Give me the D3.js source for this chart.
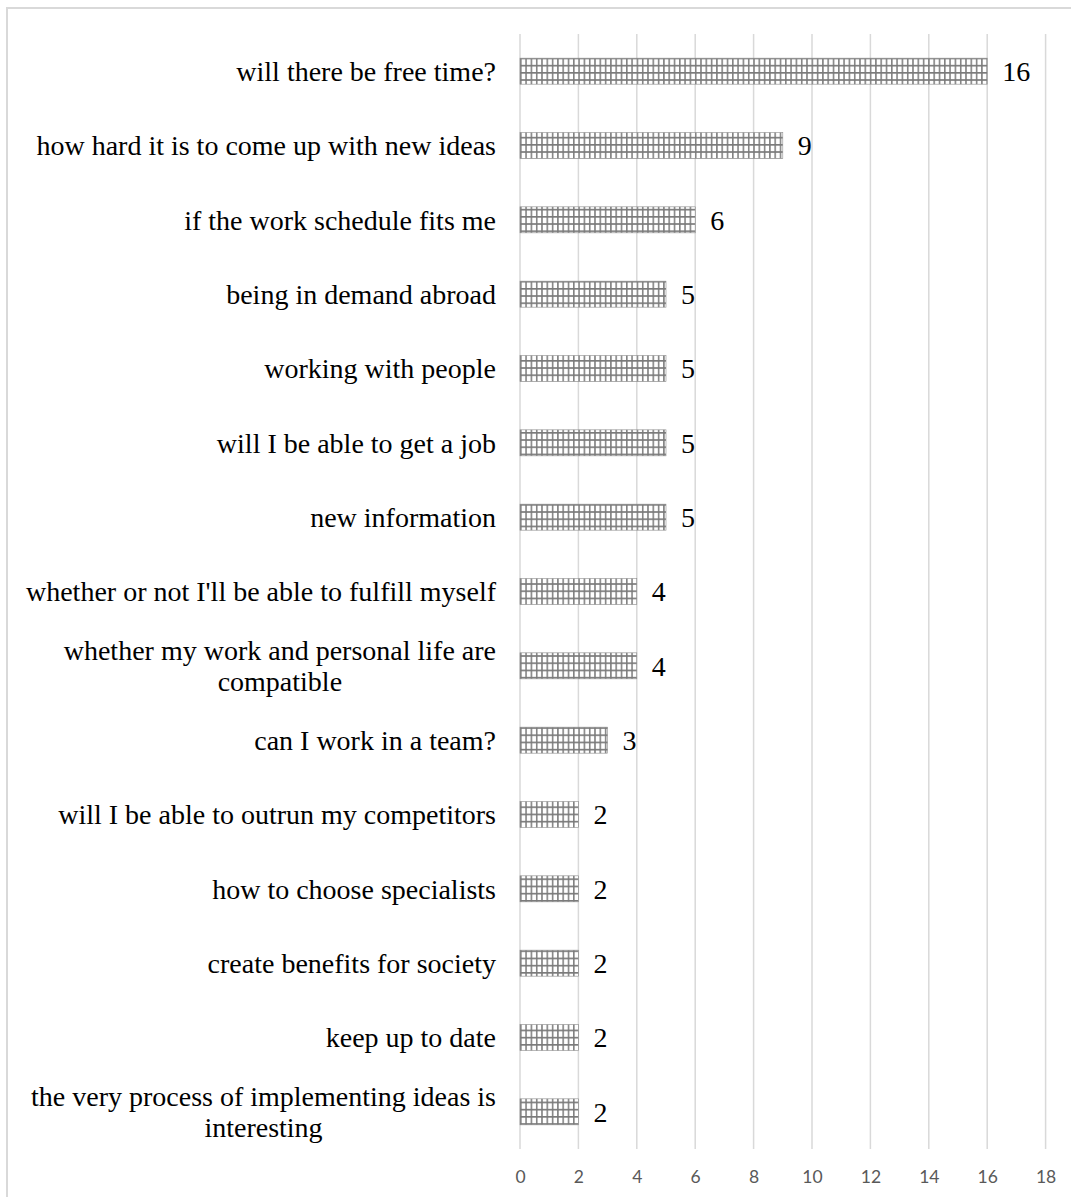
<!DOCTYPE html>
<html>
<head>
<meta charset="utf-8">
<script src="https://cdn.jsdelivr.net/npm/d3@7"></script>
<style>
  html, body { margin: 0; padding: 0; background: #fff; }
  svg { display: block; }
</style>
</head>
<body>
<svg id="chart" width="1071" height="1197"></svg>
<script>
// Survey answers, top to bottom; multi-line labels use "\n"
const categories = [
  "will there be free time?",
  "how hard it is to come up with new ideas",
  "if the work schedule fits me",
  "being in demand abroad",
  "working with people",
  "will I be able to get a job",
  "new information",
  "whether or not I'll be able to fulfill myself",
  "whether my work and personal life are\ncompatible",
  "can I work in a team?",
  "will I be able to outrun my competitors",
  "how to choose specialists",
  "create benefits for society",
  "keep up to date",
  "the very process of implementing ideas is\ninteresting"
];
const counts = [16, 9, 6, 5, 5, 5, 5, 4, 4, 3, 2, 2, 2, 2, 2];
const xTicks = [0, 2, 4, 6, 8, 10, 12, 14, 16, 18];

const SERIF = "Liberation Serif";
const SANS = "Lato";

const svg = d3.select("#chart");

// Outer frame (open at the right and bottom edges)
svg.append("rect")
  .attr("x", 7).attr("y", 8)
  .attr("width", 1100).attr("height", 1230)
  .attr("fill", "none")
  .attr("stroke", "#d9d9d9")
  .attr("stroke-width", 2);

const plot = { left: 520, right: 1045.6, top: 34, bottom: 1149 };

const x = d3.scaleLinear().domain([0, 18]).range([plot.left, plot.right]);
const y = d3.scaleBand()
  .domain(categories)
  .range([plot.top, plot.bottom])
  .paddingInner(0.65)
  .paddingOuter(0.325);

// Small-grid hatch fill for the bars
const defs = svg.append("defs");
const pat = defs.append("pattern")
  .attr("id", "gridFill")
  .attr("patternUnits", "userSpaceOnUse")
  .attr("width", 5.3).attr("height", 7.2)
  .attr("x", plot.left).attr("y", 0);
pat.append("rect").attr("width", 5.3).attr("height", 7.2).attr("fill", "#fff");
pat.append("line").attr("x1", 0).attr("x2", 5.3).attr("y1", 0.8).attr("y2", 0.8)
  .attr("stroke", "#7a7a7a").attr("stroke-width", 1.7);
pat.append("line").attr("x1", 0.8).attr("x2", 0.8).attr("y1", 0).attr("y2", 7.2)
  .attr("stroke", "#7a7a7a").attr("stroke-width", 1.5);

// Vertical gridlines
svg.append("g")
  .selectAll("line")
  .data(xTicks)
  .join("line")
  .attr("x1", d => x(d)).attr("x2", d => x(d))
  .attr("y1", plot.top).attr("y2", plot.bottom)
  .attr("stroke", "#d9d9d9")
  .attr("stroke-width", 1.5);

// X axis tick labels
const xAxis = d3.axisBottom(x).tickValues(xTicks).tickSize(0).tickPadding(0);
const gx = svg.append("g")
  .attr("transform", `translate(0,${plot.bottom + 28})`)
  .call(xAxis)
  .attr("font-family", SANS)
  .attr("font-size", 17.5);
gx.select(".domain").remove();
gx.selectAll("text")
  .attr("dy", "0.35em")
  .attr("fill", "#595959");

// Bars
svg.append("g")
  .selectAll("rect")
  .data(categories)
  .join("rect")
  .attr("x", x(0))
  .attr("y", d => y(d))
  .attr("width", (d, i) => x(counts[i]) - x(0))
  .attr("height", y.bandwidth())
  .attr("fill", "url(#gridFill)")
  .attr("stroke", "#8c8c8c")
  .attr("stroke-width", 0.6);

// Value labels
svg.append("g")
  .selectAll("text")
  .data(categories)
  .join("text")
  .attr("font-family", SERIF)
  .attr("font-size", 28)
  .attr("x", (d, i) => x(counts[i]) + 15)
  .attr("y", d => y(d) + y.bandwidth() / 2)
  .attr("dy", "0.35em")
  .attr("fill", "#000")
  .text((d, i) => counts[i]);

// Category labels (right-aligned block, lines centred within it)
const labelRight = 496;
const lineH = 31;
const gl = svg.append("g")
  .attr("font-family", SERIF)
  .attr("font-size", 28)
  .attr("fill", "#000");

categories.forEach(c => {
  const lines = c.split("\n");
  const cy = y(c) + y.bandwidth() / 2;
  const t = gl.append("text").attr("y", cy);
  if (lines.length === 1) {
    t.attr("x", labelRight).attr("text-anchor", "end").attr("dy", "0.35em").text(c);
  } else {
    // measure longest line to centre the block
    const probe = gl.append("text").text(lines[0]);
    const w = probe.node().getComputedTextLength();
    probe.remove();
    const cx = labelRight - w / 2;
    t.attr("text-anchor", "middle");
    lines.forEach((ln, k) => {
      t.append("tspan")
        .attr("x", cx)
        .attr("y", cy + (k - (lines.length - 1) / 2) * lineH)
        .attr("dy", "0.35em")
        .text(ln);
    });
  }
});
</script>
</body>
</html>
